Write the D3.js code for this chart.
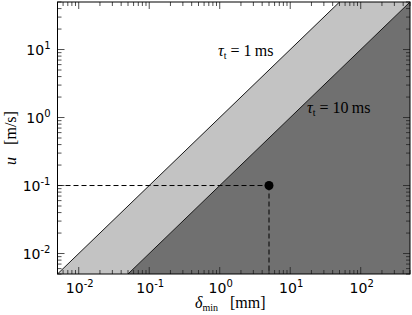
<!DOCTYPE html>
<html>
<head>
<meta charset="utf-8">
<script src="https://cdn.jsdelivr.net/npm/d3@7"></script>
<style>
  html, body { margin: 0; padding: 0; background: #fff; }
  svg { display: block; }
</style>
</head>
<body>
<div id="chart"></div>
<script>
// ---------------------------------------------------------------------------
// data
// ---------------------------------------------------------------------------
const tauValues = [1, 10];            // ms
const tauLabels = ["1", "10"];
const deltaDomain = [0.005, 500];      // mm
const uDomain = [0.005, 50];           // m/s
const pointDelta = [5];
const pointU = [0.1];
const xTickExps = [-2, -1, 0, 1, 2];
const yTickExps = [-2, -1, 0, 1];

const width = 412, height = 315;
const margin = {top: 2, right: 2, bottom: 41, left: 57.5};
const iw = width - margin.left - margin.right;
const ih = height - margin.top - margin.bottom;

const svg = d3.select('#chart').append('svg')
    .attr('width', width)
    .attr('height', height);

const g = svg.append('g')
    .attr('transform', `translate(${margin.left},${margin.top})`);

const x = d3.scaleLog().domain(deltaDomain).range([0, iw]);
const y = d3.scaleLog().domain(uDomain).range([ih, 0]);

svg.append('clipPath').attr('id', 'clip')
    .append('rect').attr('width', iw).attr('height', ih);

const plot = g.append('g').attr('clip-path', 'url(#clip)');

// straight lines on log-log, so two far-out ends are enough (clipped)
const xs = [deltaDomain[0] / 100, deltaDomain[1] * 100];

// dark region: below tau = 10 ms
plot.append('path')
    .datum(xs)
    .attr('d', d3.area()
        .x(d => x(d))
        .y0(y(uDomain[0] / 100))
        .y1(d => y(d / tauValues[1])))
    .attr('fill', '#707070');

// light band between the two lines
plot.append('path')
    .datum(xs)
    .attr('d', d3.area()
        .x(d => x(d))
        .y0(d => y(d / tauValues[1]))
        .y1(d => y(d / tauValues[0])))
    .attr('fill', '#c3c3c3');

// boundary lines
tauValues.forEach(tau => {
    plot.append('path')
        .datum(xs)
        .attr('d', d3.line().x(d => x(d)).y(d => y(d / tau)))
        .attr('fill', 'none')
        .attr('stroke', '#000')
        .attr('stroke-width', 0.9);
});

// dashed guides to the point
plot.append('line')
    .attr('x1', 0).attr('x2', x(pointDelta[0]))
    .attr('y1', y(pointU[0])).attr('y2', y(pointU[0]))
    .attr('stroke', '#000').attr('stroke-width', 1)
    .attr('stroke-dasharray', '5,3');
plot.append('line')
    .attr('x1', x(pointDelta[0])).attr('x2', x(pointDelta[0]))
    .attr('y1', y(pointU[0])).attr('y2', ih)
    .attr('stroke', '#000').attr('stroke-width', 1)
    .attr('stroke-dasharray', '5,3');

plot.selectAll('circle.pt')
    .data(pointDelta)
    .join('circle')
    .attr('class', 'pt')
    .attr('cx', d => x(d))
    .attr('cy', (d, i) => y(pointU[i]))
    .attr('r', 4.5)
    .attr('fill', '#000');

// ---------------------------------------------------------------------------
// ticks (inward, on all four sides)
// ---------------------------------------------------------------------------
function logTicks(domain) {
    const out = [];
    const lo = Math.floor(Math.log10(domain[0]));
    const hi = Math.ceil(Math.log10(domain[1]));
    for (let e = lo; e <= hi; e++) {
        for (let m = 1; m <= 9; m++) {
            const v = m * Math.pow(10, e);
            if (v >= domain[0] * 0.9999 && v <= domain[1] * 1.0001) out.push({v, major: m === 1});
        }
    }
    return out;
}
const tickCol = '#222';
const xt = logTicks(deltaDomain);
const yt = logTicks(uDomain);
const tg = g.append('g');

tg.selectAll('line.xb').data(xt).join('line')
    .attr('x1', d => x(d.v)).attr('x2', d => x(d.v))
    .attr('y1', ih).attr('y2', d => ih - (d.major ? 7 : 4))
    .attr('stroke', tickCol).attr('stroke-width', 0.8);
tg.selectAll('line.xt').data(xt).join('line')
    .attr('x1', d => x(d.v)).attr('x2', d => x(d.v))
    .attr('y1', 0).attr('y2', d => (d.major ? 7 : 4))
    .attr('stroke', tickCol).attr('stroke-width', 0.8);
tg.selectAll('line.yl').data(yt).join('line')
    .attr('y1', d => y(d.v)).attr('y2', d => y(d.v))
    .attr('x1', 0).attr('x2', d => (d.major ? 7 : 4))
    .attr('stroke', tickCol).attr('stroke-width', 0.8);
tg.selectAll('line.yr').data(yt).join('line')
    .attr('y1', d => y(d.v)).attr('y2', d => y(d.v))
    .attr('x1', iw).attr('x2', d => iw - (d.major ? 7 : 4))
    .attr('stroke', tickCol).attr('stroke-width', 0.8);

// frame
g.append('rect')
    .attr('width', iw).attr('height', ih)
    .attr('fill', 'none').attr('stroke', '#000').attr('stroke-width', 1);

// tick labels
const tickFont = 'DejaVu Sans';
function powLabel(sel) {
    sel.append('tspan').text('10');
    sel.append('tspan').attr('dy', -6).attr('font-size', 10).text(d => d);
}
g.selectAll('text.xl').data(xTickExps).join('text')
    .attr('x', d => x(Math.pow(10, d)) + 1)
    .attr('y', ih + 19)
    .attr('text-anchor', 'middle')
    .attr('font-family', tickFont).attr('font-size', 14)
    .call(powLabel);
g.selectAll('text.yl').data(yTickExps).join('text')
    .attr('x', -7)
    .attr('y', d => y(Math.pow(10, d)) + 5.5)
    .attr('text-anchor', 'end')
    .attr('font-family', tickFont).attr('font-size', 14)
    .call(powLabel);

// ---------------------------------------------------------------------------
// labels
// ---------------------------------------------------------------------------
const serif = 'Liberation Serif, DejaVu Serif, serif';

function tauLabel(px, py, val) {
    const t = svg.append('text')
        .attr('x', px).attr('y', py)
        .attr('font-family', serif).attr('font-size', 16);
    t.append('tspan').attr('font-style', 'italic').text('τ');
    t.append('tspan').attr('font-size', 10).attr('dy', 3).text('t');
    t.append('tspan').attr('dy', -3).text(` = ${val}\u2009ms`);
}
tauLabel(218, 56, tauLabels[0]);
tauLabel(307, 113, tauLabels[1]);

// x axis label
const xl = svg.append('text')
    .attr('x', 195).attr('y', 308)
    .attr('font-family', serif).attr('font-size', 16);
xl.append('tspan').attr('font-style', 'italic').text('δ');
xl.append('tspan').attr('font-size', 10).attr('dy', 3).text('min');
xl.append('tspan').attr('dy', -3).text('\u2002 [mm]');

// y axis label
const yl = svg.append('text')
    .attr('transform', `translate(16,${margin.top + ih / 2}) rotate(-90)`)
    .attr('text-anchor', 'middle')
    .attr('font-family', serif).attr('font-size', 16);
yl.append('tspan').attr('font-style', 'italic').text('u');
yl.append('tspan').text('\u2002 [m/s]');
</script>
</body>
</html>
